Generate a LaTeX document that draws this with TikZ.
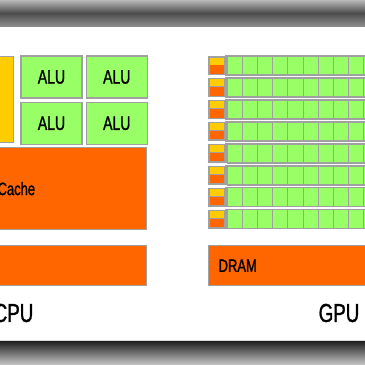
\documentclass[tikz,border=0pt]{standalone}
\usepackage{fontspec}
\newfontfamily\diafont[FakeStretch=0.72,FakeBold=1.2]{Liberation Sans}
\usetikzlibrary{positioning}
\definecolor{aluGreen}{HTML}{99FF66}
\definecolor{ctrlYellow}{HTML}{FFCC00}
\definecolor{memOrange}{HTML}{FF6600}
\definecolor{edgeGray}{HTML}{A0A0A0}

\begin{document}
\begin{tikzpicture}[x=1bp,y=-1bp,
  alubox/.style={draw=edgeGray,line width=1.3bp,fill=aluGreen,minimum width=61bp,minimum height=42bp,inner sep=0pt,font=\diafont\fontsize{19.5bp}{19.5bp}\selectfont},
  membox/.style={draw=edgeGray,line width=1.3bp,fill=memOrange,inner sep=0pt,font=\diafont\fontsize{18bp}{18bp}\selectfont},
  ctrlbox/.style={draw=edgeGray,line width=1.3bp,fill=ctrlYellow,inner sep=0pt},
  gcell/.style={draw=edgeGray,line width=0.9bp,fill=aluGreen,minimum width=15.18bp,minimum height=19bp,inner sep=0pt,anchor=north west},
  tinybox/.style={fill=#1,minimum width=14bp,inner sep=0pt,anchor=north west},
  chiplabel/.style={inner sep=0pt,font=\diafont\fontsize{26bp}{26bp}\selectfont}]
\useasboundingbox (0,0) rectangle (365,365);
\fill[white] (0,0) rectangle (365,365);
% frame bars
\shade[top color=black!28,bottom color=black!45,middle color=black!70] (0,0) rectangle (365,26);
\fill[black!15] (0,339.5) rectangle (365,341);
\shade[top color=black!88,bottom color=black!22] (0,341) rectangle (365,365);
% CPU
\node[ctrlbox,minimum width=40bp,minimum height=86bp,anchor=north east] (ctrl) at (14,56) {};
\node[alubox] (alu1) at (51.5,77) {ALU};
\node[alubox,right=3bp of alu1] (alu2) {ALU};
\node[alubox,below=3bp of alu1] (alu3) {ALU};
\node[alubox,right=3bp of alu3] (alu4) {ALU};
\node[membox,minimum width=260bp,minimum height=82bp,anchor=north east] (cache) at (147,147) {Cache};
\node[membox,minimum width=200bp,minimum height=40bp,anchor=north east] (cdram) at (147,245) {};
\node[chiplabel,anchor=east] (cpu) at (33.5,313) {CPU};
% GPU
\foreach \r in {0,...,7}{
  \pgfmathsetmacro{\ty}{56+21.9*\r}
  \node[fill=edgeGray,minimum width=17bp,minimum height=19bp,inner sep=0pt,anchor=north west] (cf\r) at (208,\ty) {};
  \node[tinybox=ctrlYellow,minimum height=7bp] (cy\r) at (209.5,\ty+1.3) {};
  \node[tinybox=memOrange,minimum height=8.5bp] (co\r) at (209.5,\ty+9) {};
  \foreach \c in {0,...,9}{
    \node[gcell] (gc\r-\c) at ({226.7+15.18*\c},\ty) {};
  }
  \draw[edgeGray,line width=1.6bp] (226.2,\ty) rectangle (380,\ty+19);
}
\node[membox,minimum width=170bp,minimum height=40bp,anchor=north west,text width=150bp,align=left,inner xsep=10bp] (gdram) at (208,245) {DRAM};
\node[chiplabel] (gpu) at (339,313) {GPU};
\end{tikzpicture}
\end{document}
